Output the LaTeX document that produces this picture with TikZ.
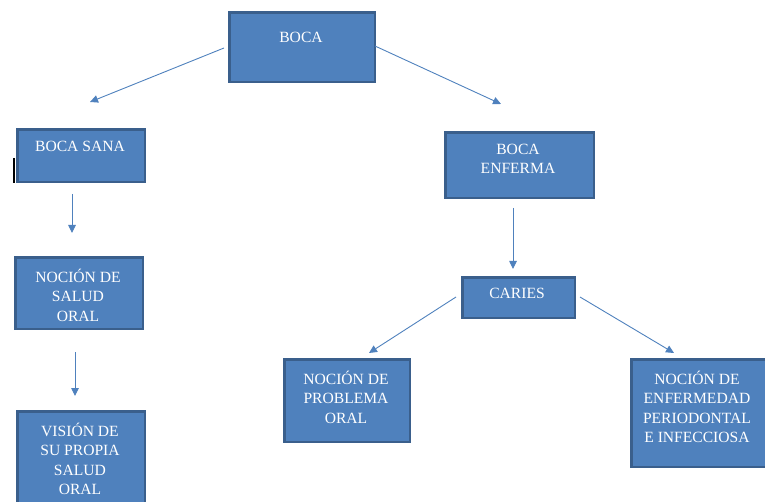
\documentclass[tikz,border=0pt]{standalone}
\usepackage{fontspec}
\setmainfont{Liberation Serif}
\usetikzlibrary{arrows.meta}
\definecolor{boxfill}{HTML}{4F81BD}
\definecolor{boxedge}{HTML}{3A5F8C}
\definecolor{arrowblue}{HTML}{4F81BD}
\tikzset{
  box/.style={draw=boxedge, fill=boxfill, line width=2.6pt, rectangle, inner sep=0pt,
    anchor=north west},
  boxtext/.style={text=white, align=center, inner sep=0pt, anchor=north,
    font=\fontsize{15.6}{19.3}\selectfont},
  link/.style={draw=arrowblue, line width=0.9pt, -{Triangle[length=8pt,width=7.5pt]}}
}
% box given by its outer corners: name, left, top, right, bottom
\newcommand{\flowbox}[5]{%
  \node[box, minimum width={#4-#2-2.6}, minimum height={#5-#3-2.6}] (#1) at (#2+1.3,#3+1.3) {};}
\begin{document}
\begin{tikzpicture}[x=1pt,y=-1pt]
\useasboundingbox (0,0) rectangle (765,502);
\clip (0,0) rectangle (765,502);

% boxes
\flowbox{boca}{227}{10}{375}{82}
\flowbox{sana}{15}{127}{145}{182}
\flowbox{enferma}{443}{130}{594}{198}
\flowbox{salud}{13}{255}{143}{329}
\flowbox{vision}{15}{409}{145}{520}
\flowbox{caries}{460}{275}{575}{318}
\flowbox{problema}{282}{357}{410}{442}
\flowbox{periodontal}{629}{357}{780}{467}

% labels
\node[boxtext] (tboca) at (301,32) {BOCA};
\node[boxtext] (tsana) at (80,141) {BOCA SANA};
\node[boxtext] (tenferma) at (518,144) {BOCA\\ENFERMA};
\node[boxtext] (tsalud) at (78,269) {NOCIÓN DE\\SALUD\\ORAL};
\node[boxtext] (tvision) at (80,423) {VISIÓN DE\\SU PROPIA\\SALUD\\ORAL};
\node[boxtext] (tcaries) at (517,288) {CARIES};
\node[boxtext] (tproblema) at (346,371) {NOCIÓN DE\\PROBLEMA\\ORAL};
\node[boxtext] (tperiodontal) at (697,371) {NOCIÓN DE\\ENFERMEDAD\\PERIODONTAL\\E INFECCIOSA};

% arrow end points
\coordinate (a1s) at (224,48);  \coordinate (a1e) at (90,102);
\coordinate (a2s) at (375,46);  \coordinate (a2e) at (501,104);
\coordinate (a3s) at (72,194);  \coordinate (a3e) at (72,233);
\coordinate (a4s) at (75,352);  \coordinate (a4e) at (75,396);
\coordinate (a5s) at (513,208); \coordinate (a5e) at (513,269);
\coordinate (a6s) at (456,297); \coordinate (a6e) at (369,353);
\coordinate (a7s) at (580,297); \coordinate (a7e) at (674,353);

\draw[link] (a1s) -- (a1e);
\draw[link] (a2s) -- (a2e);
\draw[link] (a3s) -- (a3e);
\draw[link] (a4s) -- (a4e);
\draw[link] (a5s) -- (a5e);
\draw[link] (a6s) -- (a6e);
\draw[link] (a7s) -- (a7e);

% stray text cursor beside the left box
\draw[black, line width=1.3pt] (14,158) -- (14,183);
\end{tikzpicture}
\end{document}
